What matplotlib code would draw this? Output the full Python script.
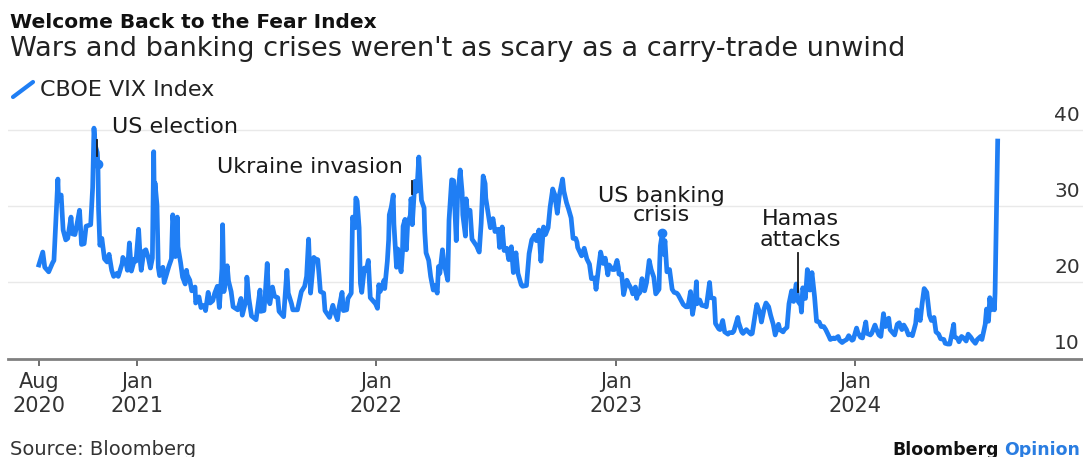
import pandas as pd
import matplotlib
matplotlib.use("Agg")
import matplotlib.pyplot as plt
from matplotlib.lines import Line2D

# VIX closes (roughly twice a week, plus spike days)
dates_2020 = ["2020-08-05", "2020-08-11", "2020-08-14", "2020-08-20", "2020-08-26", "2020-08-28",
              "2020-09-03", "2020-09-04", "2020-09-08", "2020-09-11", "2020-09-15", "2020-09-18",
              "2020-09-23", "2020-09-25", "2020-09-29", "2020-10-02", "2020-10-06", "2020-10-09",
              "2020-10-13", "2020-10-16", "2020-10-23", "2020-10-26", "2020-10-28", "2020-10-30",
              "2020-11-02", "2020-11-03", "2020-11-04", "2020-11-06", "2020-11-09", "2020-11-13",
              "2020-11-17", "2020-11-20", "2020-11-24", "2020-11-27", "2020-12-02", "2020-12-04",
              "2020-12-10", "2020-12-11", "2020-12-16", "2020-12-18", "2020-12-21", "2020-12-24",
              "2020-12-29", "2020-12-31"]
vix_2020 = [22.3, 24.0, 22.0, 21.4, 22.6, 22.9,
            33.6, 30.8, 31.5, 26.9, 25.6, 25.8,
            28.6, 26.4, 26.3, 27.6, 29.5, 25.0,
            25.1, 27.4, 27.6, 32.5, 40.3, 38.0,
            37.1, 35.6, 29.6, 24.9, 25.8, 23.1,
            22.7, 23.7, 21.6, 20.8, 21.2, 20.8,
            22.5, 23.3, 22.5, 21.6, 25.2, 21.5,
            23.1, 22.8]

dates_2021 = ["2021-01-04", "2021-01-07", "2021-01-08", "2021-01-12", "2021-01-15", "2021-01-19",
              "2021-01-22", "2021-01-25", "2021-01-27", "2021-01-28", "2021-01-29", "2021-02-01",
              "2021-02-03", "2021-02-05", "2021-02-10", "2021-02-12", "2021-02-17", "2021-02-19",
              "2021-02-23", "2021-02-25", "2021-02-26", "2021-03-01", "2021-03-04", "2021-03-05",
              "2021-03-09", "2021-03-12", "2021-03-16", "2021-03-18", "2021-03-19", "2021-03-23",
              "2021-03-26", "2021-03-31", "2021-04-01", "2021-04-06", "2021-04-09", "2021-04-14",
              "2021-04-16", "2021-04-20", "2021-04-23", "2021-04-27", "2021-04-30", "2021-05-04",
              "2021-05-07", "2021-05-11", "2021-05-12", "2021-05-13", "2021-05-14", "2021-05-19",
              "2021-05-21", "2021-05-25", "2021-05-28", "2021-06-04", "2021-06-09", "2021-06-11",
              "2021-06-17", "2021-06-18", "2021-06-21", "2021-06-25", "2021-07-02", "2021-07-08",
              "2021-07-09", "2021-07-14", "2021-07-16", "2021-07-19", "2021-07-21", "2021-07-23",
              "2021-07-27", "2021-07-30", "2021-08-04", "2021-08-06", "2021-08-13", "2021-08-18",
              "2021-08-20", "2021-08-25", "2021-08-27", "2021-09-03", "2021-09-09", "2021-09-14",
              "2021-09-17", "2021-09-20", "2021-09-23", "2021-09-28", "2021-09-30", "2021-10-04",
              "2021-10-06", "2021-10-08", "2021-10-13", "2021-10-15", "2021-10-22", "2021-10-27",
              "2021-10-29", "2021-11-03", "2021-11-05", "2021-11-10", "2021-11-12", "2021-11-17",
              "2021-11-19", "2021-11-24", "2021-11-26", "2021-11-30", "2021-12-01", "2021-12-03",
              "2021-12-06", "2021-12-08", "2021-12-10", "2021-12-14", "2021-12-17", "2021-12-20",
              "2021-12-23", "2021-12-28", "2021-12-31"]
vix_2021 = [27.0, 22.4, 21.6, 24.1, 24.3, 23.2,
            21.9, 23.2, 37.2, 30.2, 33.1, 30.2,
            22.0, 20.9, 22.0, 20.0, 21.5, 22.1,
            23.1, 28.9, 28.0, 23.4, 28.6, 24.7,
            22.6, 20.7, 19.8, 21.6, 21.0, 20.3,
            18.9, 19.4, 17.3, 18.1, 16.7, 17.0,
            16.3, 18.7, 17.3, 17.6, 18.6, 19.5,
            16.7, 21.8, 27.6, 23.1, 18.8, 22.2,
            20.2, 18.8, 16.8, 16.4, 17.9, 15.7,
            17.8, 20.7, 17.9, 15.6, 15.1, 19.0,
            16.2, 16.3, 18.5, 22.5, 17.9, 17.2,
            19.4, 18.2, 18.0, 16.2, 15.5, 21.6,
            18.6, 17.2, 16.4, 16.4, 18.8, 19.5,
            20.8, 25.7, 18.6, 23.3, 23.1, 23.0,
            21.0, 18.8, 18.6, 16.3, 15.4, 17.0,
            16.3, 15.1, 16.5, 18.7, 16.3, 16.4,
            17.9, 18.6, 28.6, 27.2, 31.1, 30.7,
            27.2, 19.9, 18.7, 21.9, 21.6, 22.9,
            18.0, 17.5, 17.2]

dates_2022 = ["2022-01-03", "2022-01-05", "2022-01-07", "2022-01-10", "2022-01-13", "2022-01-14",
              "2022-01-18", "2022-01-20", "2022-01-21", "2022-01-24", "2022-01-27", "2022-01-28",
              "2022-02-01", "2022-02-03", "2022-02-04", "2022-02-08", "2022-02-10", "2022-02-11",
              "2022-02-14", "2022-02-16", "2022-02-18", "2022-02-22", "2022-02-23", "2022-02-24",
              "2022-02-25", "2022-03-01", "2022-03-04", "2022-03-07", "2022-03-08", "2022-03-11",
              "2022-03-15", "2022-03-16", "2022-03-18", "2022-03-22", "2022-03-25", "2022-03-29",
              "2022-04-01", "2022-04-04", "2022-04-06", "2022-04-08", "2022-04-12", "2022-04-14",
              "2022-04-20", "2022-04-22", "2022-04-26", "2022-04-29", "2022-05-03", "2022-05-05",
              "2022-05-09", "2022-05-12", "2022-05-13", "2022-05-17", "2022-05-18", "2022-05-20",
              "2022-05-24", "2022-05-27", "2022-06-03", "2022-06-07", "2022-06-10", "2022-06-13",
              "2022-06-16", "2022-06-17", "2022-06-24", "2022-06-28", "2022-07-01", "2022-07-06",
              "2022-07-08", "2022-07-12", "2022-07-15", "2022-07-19", "2022-07-22", "2022-07-26",
              "2022-07-29", "2022-08-02", "2022-08-05", "2022-08-10", "2022-08-12", "2022-08-18",
              "2022-08-22", "2022-08-26", "2022-08-30", "2022-09-02", "2022-09-06", "2022-09-09",
              "2022-09-13", "2022-09-16", "2022-09-20", "2022-09-23", "2022-09-27", "2022-09-29",
              "2022-09-30", "2022-10-04", "2022-10-07", "2022-10-12", "2022-10-14", "2022-10-18",
              "2022-10-21", "2022-10-25", "2022-10-28", "2022-11-01", "2022-11-03", "2022-11-04",
              "2022-11-10", "2022-11-14", "2022-11-18", "2022-11-22", "2022-11-25", "2022-11-30",
              "2022-12-02", "2022-12-06", "2022-12-09", "2022-12-13", "2022-12-16", "2022-12-20",
              "2022-12-22", "2022-12-27", "2022-12-30"]
vix_2022 = [16.6, 19.7, 18.8, 19.4, 20.3, 19.2,
            22.8, 25.6, 28.9, 29.9, 31.5, 27.7,
            22.0, 24.4, 23.2, 21.4, 23.9, 27.4,
            28.3, 24.3, 27.8, 28.8, 31.0, 30.3,
            27.6, 33.3, 32.0, 36.5, 35.1, 30.8,
            29.8, 26.7, 23.9, 22.9, 20.8, 19.0,
            19.6, 18.6, 22.1, 21.2, 24.3, 22.7,
            20.3, 28.2, 33.5, 33.4, 25.5, 31.2,
            34.8, 31.8, 28.9, 26.1, 31.0, 29.4,
            29.5, 25.7, 24.8, 24.0, 27.8, 34.0,
            33.0, 31.1, 27.2, 28.4, 26.7, 27.0,
            24.6, 27.3, 24.2, 24.5, 23.0, 24.7,
            21.3, 23.9, 21.2, 19.7, 19.5, 19.6,
            23.8, 25.6, 26.2, 25.5, 26.9, 22.8,
            27.3, 26.3, 27.2, 29.9, 32.3, 31.8,
            31.6, 29.1, 31.4, 33.6, 32.0, 30.5,
            29.7, 28.5, 25.8, 25.8, 25.3, 24.6,
            23.5, 24.5, 23.1, 22.4, 20.5, 20.6,
            19.1, 22.0, 24.0, 22.5, 23.2, 21.0,
            22.3, 21.7, 21.7]

dates_2023 = ["2023-01-03", "2023-01-05", "2023-01-06", "2023-01-10", "2023-01-13", "2023-01-18",
              "2023-01-20", "2023-01-25", "2023-01-27", "2023-01-31", "2023-02-02", "2023-02-03",
              "2023-02-07", "2023-02-10", "2023-02-14", "2023-02-17", "2023-02-21", "2023-02-24",
              "2023-02-28", "2023-03-03", "2023-03-08", "2023-03-09", "2023-03-10", "2023-03-13",
              "2023-03-15", "2023-03-17", "2023-03-20", "2023-03-24", "2023-03-28", "2023-03-31",
              "2023-04-04", "2023-04-06", "2023-04-14", "2023-04-18", "2023-04-21", "2023-04-25",
              "2023-04-28", "2023-05-02", "2023-05-04", "2023-05-05", "2023-05-09", "2023-05-12",
              "2023-05-17", "2023-05-19", "2023-05-24", "2023-05-26", "2023-05-31", "2023-06-02",
              "2023-06-07", "2023-06-09", "2023-06-13", "2023-06-16", "2023-06-21", "2023-06-23",
              "2023-06-28", "2023-06-30", "2023-07-06", "2023-07-07", "2023-07-12", "2023-07-14",
              "2023-07-19", "2023-07-21", "2023-07-26", "2023-07-28", "2023-08-02", "2023-08-04",
              "2023-08-09", "2023-08-11", "2023-08-15", "2023-08-18", "2023-08-22", "2023-08-25",
              "2023-08-29", "2023-09-01", "2023-09-06", "2023-09-08", "2023-09-13", "2023-09-15",
              "2023-09-19", "2023-09-22", "2023-09-26", "2023-09-29", "2023-10-03", "2023-10-06",
              "2023-10-10", "2023-10-11", "2023-10-13", "2023-10-17", "2023-10-20", "2023-10-24",
              "2023-10-27", "2023-10-31", "2023-11-03", "2023-11-07", "2023-11-10", "2023-11-14",
              "2023-11-17", "2023-11-22", "2023-11-24", "2023-11-29", "2023-12-01", "2023-12-06",
              "2023-12-08", "2023-12-12", "2023-12-15", "2023-12-19", "2023-12-22", "2023-12-27",
              "2023-12-29"]
vix_2023 = [22.9, 22.0, 21.1, 21.1, 18.4, 20.3,
            19.9, 19.1, 18.5, 19.4, 17.9, 18.3,
            18.7, 20.5, 18.9, 20.0, 22.9, 21.7,
            20.7, 18.5, 19.1, 22.6, 24.8, 26.5,
            23.7, 25.5, 21.4, 21.7, 19.1, 18.7,
            18.6, 18.4, 17.1, 16.8, 16.8, 18.8,
            15.8, 17.8, 20.1, 17.2, 17.7, 17.0,
            16.9, 16.8, 20.0, 18.0, 17.9, 14.6,
            13.9, 13.8, 15.0, 13.5, 13.2, 13.4,
            13.4, 13.6, 15.4, 14.8, 13.5, 13.3,
            13.8, 13.6, 13.2, 13.3, 16.1, 17.1,
            15.9, 14.8, 16.5, 17.3, 16.8, 15.7,
            14.5, 13.1, 14.5, 13.8, 13.5, 13.8,
            14.1, 17.2, 18.9, 17.5, 19.8, 17.5,
            17.0, 16.1, 19.3, 17.9, 21.7, 19.0,
            21.3, 18.1, 14.9, 14.8, 14.2, 14.2,
            13.8, 12.9, 12.5, 12.7, 12.6, 12.9,
            12.4, 12.1, 12.3, 12.5, 13.0, 12.4,
            12.5]

dates_2024 = ["2024-01-03", "2024-01-05", "2024-01-09", "2024-01-12", "2024-01-17", "2024-01-19",
              "2024-01-24", "2024-01-26", "2024-01-31", "2024-02-02", "2024-02-06", "2024-02-09",
              "2024-02-13", "2024-02-16", "2024-02-21", "2024-02-23", "2024-02-27", "2024-03-01",
              "2024-03-05", "2024-03-08", "2024-03-12", "2024-03-15", "2024-03-19", "2024-03-22",
              "2024-03-26", "2024-03-28", "2024-04-02", "2024-04-04", "2024-04-05", "2024-04-09",
              "2024-04-12", "2024-04-15", "2024-04-19", "2024-04-23", "2024-04-26", "2024-04-30",
              "2024-05-03", "2024-05-07", "2024-05-10", "2024-05-15", "2024-05-17", "2024-05-21",
              "2024-05-24", "2024-05-30", "2024-05-31", "2024-06-05", "2024-06-07", "2024-06-11",
              "2024-06-14", "2024-06-18", "2024-06-21", "2024-06-25", "2024-06-28", "2024-07-02",
              "2024-07-05", "2024-07-10", "2024-07-12", "2024-07-17", "2024-07-19", "2024-07-22",
              "2024-07-24", "2024-07-26", "2024-07-30", "2024-07-31", "2024-08-01", "2024-08-02",
              "2024-08-05"]
vix_2024 = [14.0, 13.4, 12.8, 12.7, 14.8, 13.3,
            13.1, 13.3, 14.4, 13.9, 13.1, 12.9,
            15.9, 14.2, 15.3, 13.8, 13.4, 13.1,
            14.5, 14.7, 13.8, 14.4, 13.8, 13.1,
            13.2, 13.0, 14.6, 16.4, 16.0, 15.0,
            17.3, 19.2, 18.7, 15.7, 15.0, 15.4,
            13.5, 13.2, 12.6, 12.5, 12.0, 11.9,
            11.9, 14.5, 12.9, 12.6, 12.2, 12.9,
            12.7, 12.3, 13.2, 12.8, 12.4, 12.0,
            12.5, 12.9, 12.5, 14.5, 16.5, 14.9,
            18.0, 16.4, 17.7, 16.4, 18.6, 23.4,
            38.6]

dates = pd.to_datetime(dates_2020 + dates_2021 + dates_2022 + dates_2023 + dates_2024)
vix = vix_2020 + vix_2021 + vix_2022 + vix_2023 + vix_2024

tick_dates = pd.to_datetime(["2020-08-05", "2021-01-01", "2022-01-01", "2023-01-01", "2024-01-01"])
tick_labels = ["Aug\n2020", "Jan\n2021", "Jan\n2022", "Jan\n2023", "Jan\n2024"]
y_levels = [10, 20, 30, 40]

BLUE = "#1f7ef4"
INK = "#1a1a1a"

W, H = 1083, 457
fig = plt.figure(figsize=(W / 100, H / 100), dpi=100)


def fx(px):
    return px / W


def fy(py):
    return 1 - py / H


ax = fig.add_axes([fx(8), fy(358.5), fx(1083) - fx(8), fy(100) - fy(358.5)])
ax.set_xlim(pd.Timestamp("2020-06-19"), pd.Timestamp("2024-12-13"))
ax.set_ylim(10, 44)

for lv in y_levels[1:]:
    ax.axhline(lv, color="#e9e9e9", lw=1.0, zorder=0)
for lv in y_levels:
    ax.text(0.997, lv + 1.3, str(lv), transform=ax.get_yaxis_transform(),
            ha="right", va="baseline", fontsize=14.5, color="#333333")

ax.plot(dates, vix, color=BLUE, lw=3.4, solid_joinstyle="round", zorder=3)

# event markers
ax.plot(pd.Timestamp("2020-11-03"), 35.6, "o", color=BLUE, ms=6, zorder=4)
ax.plot(pd.Timestamp("2023-03-13"), 26.5, "o", color=BLUE, ms=6, zorder=4)
ax.plot([pd.Timestamp("2020-11-01")] * 2, [36.6, 38.8], color=INK, lw=1.3, zorder=5)
ax.plot([pd.Timestamp("2022-02-24")] * 2, [31.6, 33.4], color=INK, lw=1.3, zorder=5)
ax.plot([pd.Timestamp("2023-10-06")] * 2, [18.7, 23.9], color=INK, lw=1.3, zorder=5)

ann = dict(fontsize=16, color=INK, va="center")
ax.text(pd.Timestamp("2020-11-24"), 40.4, "US election", ha="left", **ann)
ax.text(pd.Timestamp("2021-05-04"), 35.2, "Ukraine invasion", ha="left", **ann)
ax.text(pd.Timestamp("2023-03-12"), 31.4, "US banking", ha="center", **ann)
ax.text(pd.Timestamp("2023-03-12"), 28.9, "crisis", ha="center", **ann)
ax.text(pd.Timestamp("2023-10-09"), 28.4, "Hamas", ha="center", **ann)
ax.text(pd.Timestamp("2023-10-09"), 25.6, "attacks", ha="center", **ann)

for s in ["top", "left", "right"]:
    ax.spines[s].set_visible(False)
ax.spines["bottom"].set_color("#808080")
ax.spines["bottom"].set_linewidth(2.0)
ax.set_yticks([])
ax.set_xticks(tick_dates)
ax.set_xticklabels(tick_labels, fontsize=15, color="#333333", linespacing=1.2)
ax.tick_params(axis="x", direction="out", length=5, width=1.2, color="#555555", pad=5)

# header
fig.text(fx(10), fy(28), "Welcome Back to the Fear Index", fontsize=14.5, fontweight="bold",
         color="#111111", va="baseline")
fig.text(fx(10), fy(56), "Wars and banking crises weren't as scary as a carry-trade unwind",
         fontsize=19.5, color="#222222", va="baseline")
fig.add_artist(Line2D([fx(13), fx(33)], [fy(97), fy(82)], transform=fig.transFigure,
                      color=BLUE, lw=3.0, solid_capstyle="round"))
fig.text(fx(40), fy(90), "CBOE VIX Index", fontsize=16, color="#222222", va="center")

# footer
fig.text(fx(10), fy(455), "Source: Bloomberg", fontsize=14, color="#333333", va="baseline")
op = fig.text(fx(1080), fy(455), "Opinion", fontsize=12.5, fontweight="bold", color="#2a7de1",
              ha="right", va="baseline")
fig.canvas.draw()
op_left = op.get_window_extent().x0
fig.text((op_left - 5) / W, fy(455), "Bloomberg", fontsize=12.5, fontweight="bold",
         color="#111111", ha="right", va="baseline")

fig.savefig("out.png", dpi=100)
